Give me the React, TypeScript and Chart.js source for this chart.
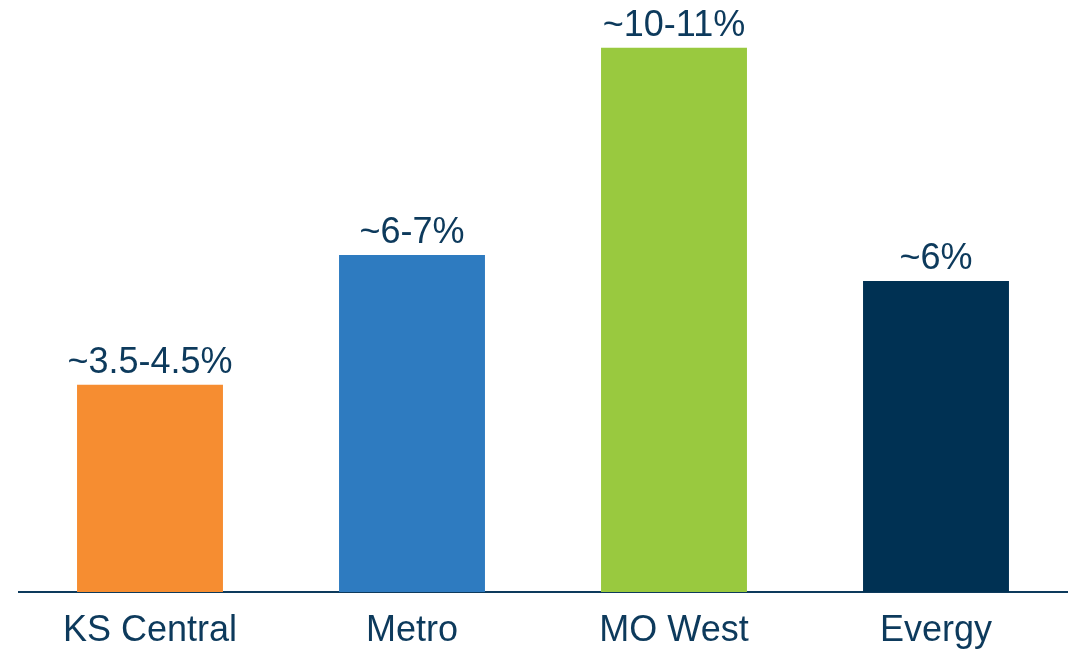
import React, { useEffect, useRef } from "react";
import { Chart, registerables } from "chart.js";

Chart.register(...registerables);

const categories = ["KS Central", "Metro", "MO West", "Evergy"];
const values = [4, 6.5, 10.5, 6];
const valueLabels = ["~3.5-4.5%", "~6-7%", "~10-11%", "~6%"];
const barColors = ["#F68D31", "#2E7BC0", "#99C93F", "#003153"];

const TEXT_COLOR = "#0D3A5C";
const FONT_FAMILY = "'Liberation Sans', Arial, sans-serif";

const valueLabelPlugin = {
  id: "valueLabels",
  afterDatasetsDraw(chart: any) {
    const { ctx } = chart;
    const meta = chart.getDatasetMeta(0);
    ctx.save();
    ctx.font = `36px ${FONT_FAMILY}`;
    ctx.fillStyle = TEXT_COLOR;
    ctx.textAlign = "center";
    ctx.textBaseline = "alphabetic";
    meta.data.forEach((bar: any, i: number) => {
      ctx.fillText(valueLabels[i], bar.x, bar.y - 12);
    });
    ctx.restore();
  },
};

export default function App() {
  const canvasRef = useRef<HTMLCanvasElement>(null);

  useEffect(() => {
    document.body.style.margin = "0";
    const chart = new Chart(canvasRef.current!, {
      type: "bar",
      data: {
        labels: categories,
        datasets: [
          {
            data: values,
            backgroundColor: barColors,
            categoryPercentage: 1,
            barPercentage: 0.557,
          },
        ],
      },
      options: {
        animation: false,
        responsive: false,
        layout: { padding: { left: 19, right: 6, top: 0, bottom: 2 } },
        plugins: { legend: { display: false }, tooltip: { enabled: false } },
        scales: {
          x: {
            grid: { display: false },
            border: { display: true, color: "#0D3A5C", width: 2 },
            ticks: {
              color: TEXT_COLOR,
              padding: 9,
              font: { family: FONT_FAMILY, size: 36 },
            },
            afterFit(scale: any) {
              scale.height = 57;
            },
          },
          y: {
            display: false,
            min: 0,
            max: 11.42,
          },
        },
      },
      plugins: [valueLabelPlugin],
    });
    return () => chart.destroy();
  }, []);

  return (
    <div style={{ width: 1073, height: 651, background: "#fff" }}>
      <canvas ref={canvasRef} width={1073} height={651} />
    </div>
  );
}
